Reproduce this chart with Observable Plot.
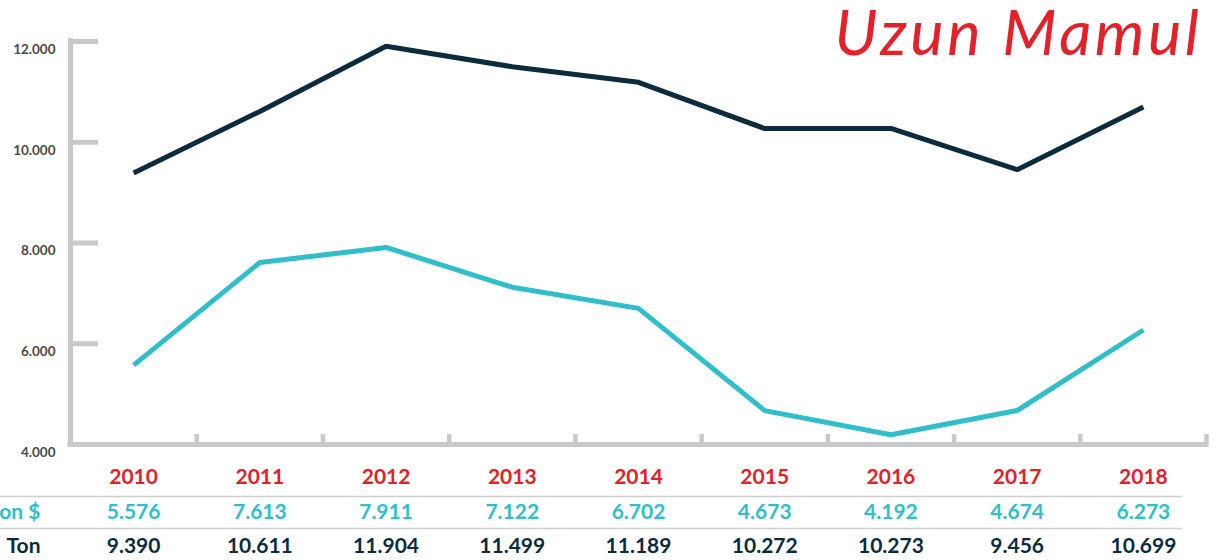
<!DOCTYPE html>
<html>
<head>
<meta charset="utf-8">
<script src="https://cdn.jsdelivr.net/npm/d3@7"></script>
<script src="https://cdn.jsdelivr.net/npm/@observablehq/plot@0.6"></script>
<style>
  html, body { margin: 0; padding: 0; background: #ffffff; }
  #chart svg { display: block; }
</style>
</head>
<body>
<div id="chart"></div>
<script>
// ---- data ----
const title = "Uzun Mamul";
const years = [2010, 2011, 2012, 2013, 2014, 2015, 2016, 2017, 2018];
const usdValues = [5576, 7613, 7911, 7122, 6702, 4673, 4192, 4674, 6273];   // Milyon $
const tonValues = [9390, 10611, 11904, 11499, 11189, 10272, 10273, 9456, 10699]; // Ton
const yTicks = [4000, 6000, 8000, 10000, 12000];
const rowLabels = ["Milyon $", "Ton"];

// ---- styles ----
const RED = "#e42028";
const TEAL = "#30bfca";
const DARK = "#0c2c3e";
const GRAY = "#c8c9cb";

const locale = d3.formatLocale({decimal: ",", thousands: ".", grouping: [3], currency: ["", ""]});
const fmt = locale.format(",d");

const usdRows = years.map((year, i) => ({year, value: usdValues[i]}));
const tonRows = years.map((year, i) => ({year, value: tonValues[i]}));
const xMin = years[0] - 0.5, xMax = years[years.length - 1] + 0.5;
const boundaries = years.map(y => y + 0.5);

const chart = Plot.plot({
  width: 1232,
  height: 560,
  marginLeft: 70,
  marginRight: 26,
  marginTop: 41,
  marginBottom: 116,
  style: {fontFamily: "Lato, 'Open Sans', sans-serif", background: "#ffffff", overflow: "visible"},
  x: {type: "linear", domain: [xMin, xMax], axis: null},
  y: {domain: [4000, 12000], axis: null},
  marks: [
    // left axis line
    Plot.ruleX([xMin], {x: d => d, y1: 12000, y2: 4000, insetTop: -3, insetBottom: -2.5, stroke: GRAY, strokeWidth: 5}),
    // left axis ticks
    Plot.ruleY(yTicks.filter(t => t > 4000), {y: d => d, x1: xMin, x2: xMin, insetRight: -28, stroke: GRAY, strokeWidth: 5}),
    // bottom axis line
    Plot.ruleY([4000], {y: d => d, x1: xMin, x2: xMax, insetLeft: -2.5, insetRight: -2.5, stroke: GRAY, strokeWidth: 5}),
    // bottom axis ticks
    Plot.ruleX(boundaries, {x: d => d, y1: 4000, y2: 4000, insetTop: -10, stroke: GRAY, strokeWidth: 4.5}),
    // y tick labels
    Plot.text(yTicks, {x: xMin, y: d => d, text: d => fmt(d), dx: -15, dy: 8, textAnchor: "end", fontSize: 13.5, fontWeight: 700, fill: "#4a4a4a"}),
    // lines
    Plot.line(tonRows, {x: "year", y: "value", stroke: DARK, strokeWidth: 5, strokeLinejoin: "miter", strokeLinecap: "butt"}),
    Plot.line(usdRows, {x: "year", y: "value", stroke: TEAL, strokeWidth: 5, strokeLinejoin: "miter", strokeLinecap: "butt"}),
    // title
    Plot.text([title], {frameAnchor: "top-right", lineAnchor: "middle", text: d => d, textAnchor: "end", dx: -4, dy: -7, fontSize: 63, fontStyle: "italic", fontWeight: 400, fill: RED, style: "letter-spacing: 3.5px"}),
    // table: years row
    Plot.text(years, {x: d => d, text: d => String(d), frameAnchor: "bottom", lineAnchor: "middle", dy: 33, fontSize: 21, fontWeight: 700, fill: RED}),
    // separators
    Plot.ruleY([4000], {y: d => d, x1: xMin, x2: xMax, insetLeft: -70, insetRight: 24, dy: 52, stroke: "#cfcfcf", strokeWidth: 1.5}),
    Plot.ruleY([4000], {y: d => d, x1: xMin, x2: xMax, insetLeft: -70, insetRight: 24, dy: 84, stroke: "#cfcfcf", strokeWidth: 1.5}),
    // table: Milyon $ row
    Plot.text([rowLabels[0]], {frameAnchor: "bottom-left", lineAnchor: "middle", text: d => d, textAnchor: "end", dx: -30, dy: 68, fontSize: 21, fontWeight: 700, fill: TEAL}),
    Plot.text(usdRows, {x: "year", text: d => fmt(d.value), frameAnchor: "bottom", lineAnchor: "middle", dy: 68, fontSize: 21, fontWeight: 700, fill: TEAL}),
    // table: Ton row
    Plot.text([rowLabels[1]], {frameAnchor: "bottom-left", lineAnchor: "middle", text: d => d, textAnchor: "end", dx: -30, dy: 102, fontSize: 21, fontWeight: 700, fill: DARK}),
    Plot.text(tonRows, {x: "year", text: d => fmt(d.value), frameAnchor: "bottom", lineAnchor: "middle", dy: 102, fontSize: 21, fontWeight: 700, fill: DARK})
  ]
});
const titleText = chart.querySelectorAll("text");
titleText.forEach(t => { if (t.textContent === title) t.setAttribute("letter-spacing", "3.5"); });
document.getElementById("chart").append(chart);
</script>
</body>
</html>
